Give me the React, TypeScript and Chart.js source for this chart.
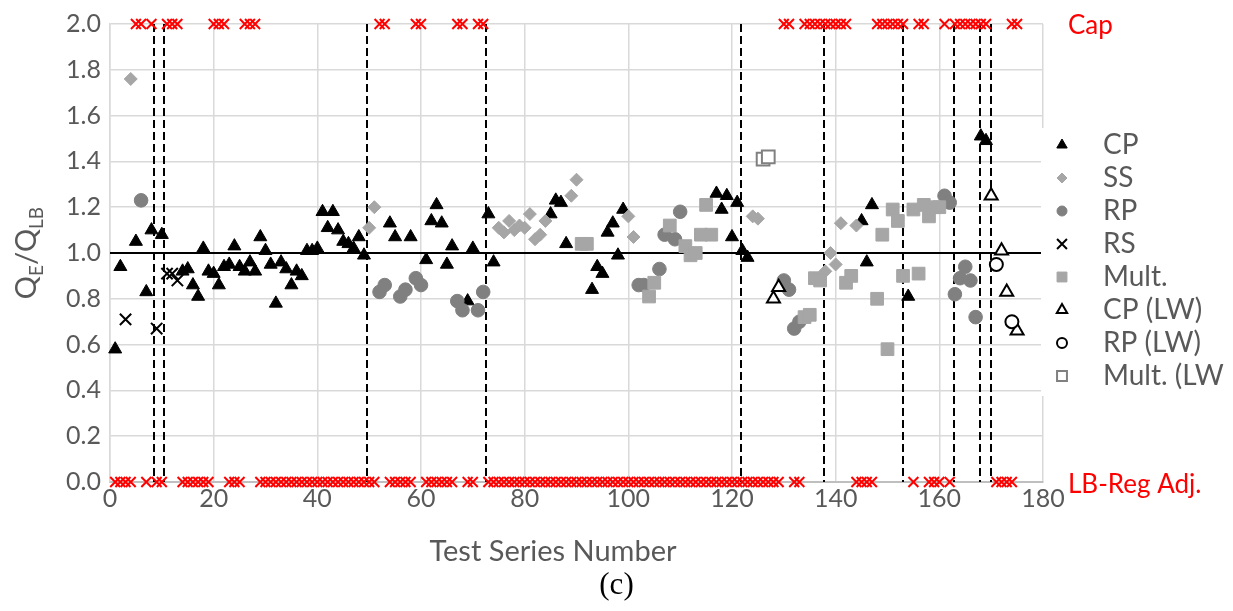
import React, { useEffect, useRef } from 'react';
import { Chart, registerables } from 'chart.js';

Chart.register(...registerables);

// ---- axis settings ----
const X_MIN = 0;
const X_MAX = 180;
const X_STEP = 20;
const Y_MIN = 0;
const Y_MAX = 2;
const Y_STEP = 0.2;
const REF_Y = 1.0;
const CAP_Y = 2.0;
const LB_Y = 0.0;

// ---- vertical dashed dividers (test series number) ----
const DIVIDERS = [8.4, 10.5, 49.6, 72.6, 121.8, 137.8, 152.9, 162.8, 167.8, 169.9];

// ---- series data: [test series number, QE/QLB] ----
const CP: [number, number][] = [
  [1, 0.58], [2, 0.94], [5, 1.05], [7, 0.83], [8, 1.1], [10, 1.08], [14, 0.92], [15, 0.93], [16, 0.86],
  [17, 0.81], [18, 1.02], [19, 0.92], [20, 0.91], [21, 0.86], [22, 0.94], [23, 0.95], [24, 1.03], [25, 0.94],
  [26, 0.92], [27, 0.96], [28, 0.92], [29, 1.07], [30, 1.01], [31, 0.95], [32, 0.78], [33, 0.96], [34, 0.93],
  [35, 0.86], [36, 0.92], [37, 0.9], [38, 1.01], [39, 1.01], [40, 1.02], [41, 1.18], [42, 1.11], [43, 1.18],
  [44, 1.1], [45, 1.05], [46, 1.04], [47, 1.02], [48, 1.07], [49, 0.99], [54, 1.13], [55, 1.07], [58, 1.07],
  [61, 0.97], [62, 1.14], [63, 1.21], [64, 1.13], [65, 0.95], [66, 1.03], [69, 0.79], [70, 1.02], [73, 1.17],
  [74, 0.96], [85, 1.17], [86, 1.23], [87, 1.22], [88, 1.04], [93, 0.84], [94, 0.94], [95, 0.91], [96, 1.09],
  [97, 1.13], [98, 0.99], [99, 1.19], [117, 1.26], [118, 1.19], [119, 1.25], [120, 1.07], [121, 1.22],
  [122, 1.01], [123, 0.98], [145, 1.14], [146, 0.96], [147, 1.21], [154, 0.81], [168, 1.51], [169, 1.49],
];
const SS: [number, number][] = [
  [4, 1.76], [50, 1.11], [51, 1.2], [75, 1.11], [76, 1.09], [77, 1.14], [78, 1.1], [79, 1.12], [80, 1.11],
  [81, 1.17], [82, 1.06], [83, 1.08], [84, 1.14], [89, 1.25], [90, 1.32], [100, 1.16], [101, 1.07],
  [124, 1.16], [125, 1.15], [138, 0.92], [139, 1.0], [140, 0.95], [141, 1.13], [144, 1.12],
];
const RP: [number, number][] = [
  [6, 1.23], [52, 0.83], [53, 0.86], [56, 0.81], [57, 0.84], [59, 0.89], [60, 0.86], [67, 0.79], [68, 0.75],
  [71, 0.75], [72, 0.83], [102, 0.86], [103, 0.86], [106, 0.93], [107, 1.08], [109, 1.06], [110, 1.18],
  [130, 0.88], [131, 0.84], [132, 0.67], [133, 0.7], [161, 1.25], [162, 1.22], [163, 0.82], [164, 0.89],
  [165, 0.94], [166, 0.88], [167, 0.72],
];
const RS: [number, number][] = [[3, 0.71], [9, 0.67], [11, 0.91], [12, 0.91], [13, 0.88]];
const MULT: [number, number][] = [
  [91, 1.04], [92, 1.04], [104, 0.81], [105, 0.87], [108, 1.12], [111, 1.03], [112, 0.99], [113, 1.0],
  [114, 1.08], [115, 1.21], [116, 1.08], [134, 0.72], [135, 0.73], [136, 0.89], [137, 0.88], [142, 0.87],
  [143, 0.9], [148, 0.8], [149, 1.08], [150, 0.58], [151, 1.19], [152, 1.14], [153, 0.9], [155, 1.19],
  [156, 0.91], [157, 1.21], [158, 1.16], [159, 1.2], [160, 1.2],
];
const CP_LW: [number, number][] = [[128, 0.8], [129, 0.85], [170, 1.25], [172, 1.01], [173, 0.83], [175, 0.66]];
const RP_LW: [number, number][] = [[171, 0.95], [174, 0.7]];
const MULT_LW: [number, number][] = [[126, 1.41], [127, 1.42]];

const range = (a: number, b: number) => Array.from({ length: b - a + 1 }, (_, i) => a + i);

// test series at the cap (plotted at 2.0) and with LB regression adjustment (plotted at 0.0)
const CAP_SERIES: number[] = [
  5, 6, 8, 11, 12, 13, 20, 21, 22, 26, 27, 28, 52, 53, 59, 60, 67, 68, 71, 72, 130, 131,
  ...range(134, 142), ...range(148, 153), 156, 157, 161, ...range(163, 169), 174, 175,
];
const LB_SERIES: number[] = [
  1, 2, 3, 4, 7, 9, 10, ...range(14, 19), 23, 24, 25, ...range(29, 51), ...range(54, 58), ...range(61, 66),
  69, 70, ...range(73, 129), 132, 133, ...range(144, 147), 155, 158, 159, 160, 162, ...range(171, 174),
];

const TEXT_GRAY = '#595959';
const FONT = 'Lato';

function shapePath(ctx: CanvasRenderingContext2D, style: string, x: number, y: number, r: number) {
  ctx.beginPath();
  if (style === 'triangle') {
    let a = 0;
    ctx.moveTo(x + Math.sin(a) * r, y - Math.cos(a) * r);
    a += (2 * Math.PI) / 3;
    ctx.lineTo(x + Math.sin(a) * r, y - Math.cos(a) * r);
    a += (2 * Math.PI) / 3;
    ctx.lineTo(x + Math.sin(a) * r, y - Math.cos(a) * r);
    ctx.closePath();
  } else if (style === 'circle') {
    ctx.arc(x, y, r, 0, Math.PI * 2);
    ctx.closePath();
  } else if (style === 'rect') {
    const s = Math.SQRT1_2 * r;
    ctx.rect(x - s, y - s, 2 * s, 2 * s);
  } else if (style === 'rectRot') {
    ctx.moveTo(x - r, y);
    ctx.lineTo(x, y - r);
    ctx.lineTo(x + r, y);
    ctx.lineTo(x, y + r);
    ctx.closePath();
  } else if (style === 'crossRot') {
    const o = Math.SQRT1_2 * r;
    ctx.moveTo(x - o, y - o);
    ctx.lineTo(x + o, y + o);
    ctx.moveTo(x - o, y + o);
    ctx.lineTo(x + o, y - o);
  }
}

const overlayPlugin = {
  id: 'overlay',
  beforeDatasetsDraw(chart: any) {
    const { ctx, scales } = chart;
    const xs = scales.x;
    const ys = scales.y;
    ctx.save();
    // dashed dividers
    ctx.strokeStyle = '#000000';
    ctx.lineWidth = 2;
    ctx.setLineDash([8, 4]);
    for (const d of DIVIDERS) {
      const px = Math.round(xs.getPixelForValue(d));
      ctx.beginPath();
      ctx.moveTo(px, ys.getPixelForValue(Y_MAX));
      ctx.lineTo(px, ys.getPixelForValue(Y_MIN));
      ctx.stroke();
    }
    // reference line at 1.0
    ctx.setLineDash([]);
    ctx.beginPath();
    const ry = Math.round(ys.getPixelForValue(REF_Y));
    ctx.moveTo(xs.getPixelForValue(X_MIN), ry);
    ctx.lineTo(xs.getPixelForValue(X_MAX), ry);
    ctx.stroke();
    ctx.restore();
  },
  afterDraw(chart: any) {
    const { ctx, scales, chartArea } = chart;
    const ys = scales.y;
    ctx.save();

    // Cap / LB-Reg Adj. labels
    ctx.fillStyle = '#FF0000';
    ctx.font = `26px ${FONT}`;
    ctx.textAlign = 'left';
    ctx.textBaseline = 'middle';
    ctx.fillText('Cap', 1068, ys.getPixelForValue(CAP_Y) + 2);
    ctx.fillText('LB-Reg Adj.', 1068, ys.getPixelForValue(LB_Y) + 3);

    // legend
    ctx.fillStyle = '#FFFFFF';
    ctx.fillRect(1041, 128, 192, 268);
    ctx.save();
    ctx.beginPath();
    ctx.rect(1041, 120, 183, 280);
    ctx.clip();
    const items = chart.data.datasets.filter((d: any) => d.inLegend);
    items.forEach((d: any, i: number) => {
      const cy = 145 + i * 33;
      const cx = 1062;
      const r = d.legendRadius;
      shapePath(ctx, d.pointStyle, cx, cy, r);
      ctx.lineWidth = d.legendBorder;
      if (d.pointStyle !== 'crossRot') {
        ctx.fillStyle = d.backgroundColor;
        ctx.fill();
      }
      ctx.strokeStyle = d.borderColor;
      ctx.stroke();
      ctx.fillStyle = TEXT_GRAY;
      ctx.font = `28px ${FONT}`;
      ctx.textAlign = 'left';
      ctx.textBaseline = 'middle';
      ctx.fillText(d.label, 1103, cy);
    });
    ctx.restore();

    // x axis title
    ctx.fillStyle = TEXT_GRAY;
    ctx.font = `29px ${FONT}`;
    ctx.textAlign = 'center';
    ctx.textBaseline = 'middle';
    ctx.fillText('Test Series Number', 553, 552);

    // y axis title with subscripts
    ctx.translate(27, (chartArea.top + chartArea.bottom) / 2);
    ctx.rotate(-Math.PI / 2);
    const big = `29px ${FONT}`;
    const small = `19px ${FONT}`;
    const parts: [string, string, number][] = [
      ['Q', big, 0],
      ['E', small, 7],
      ['/Q', big, 0],
      ['LB', small, 7],
    ];
    let total = 0;
    for (const [t, f] of parts) {
      ctx.font = f;
      total += ctx.measureText(t).width;
    }
    let cx = -total / 2;
    ctx.textAlign = 'left';
    ctx.textBaseline = 'alphabetic';
    for (const [t, f, dy] of parts) {
      ctx.font = f;
      ctx.fillText(t, cx, 9 + dy);
      cx += ctx.measureText(t).width;
    }
    ctx.restore();
  },
};

function pts(arr: [number, number][]) {
  return arr.map(([x, y]) => ({ x, y }));
}

function series(
  label: string,
  data: [number, number][],
  pointStyle: string,
  radius: number,
  fill: string,
  stroke: string,
  border: number,
  order: number,
  legendRadius: number,
  legendBorder: number,
) {
  return {
    type: 'scatter',
    label,
    data: pts(data),
    pointStyle,
    pointRadius: radius,
    backgroundColor: fill,
    borderColor: stroke,
    borderWidth: border,
    clip: false,
    order,
    inLegend: true,
    legendRadius,
    legendBorder,
  };
}

export default function App() {
  const canvasRef = useRef<HTMLCanvasElement | null>(null);

  useEffect(() => {
    if (!canvasRef.current) return;
    const datasets: any[] = [
      series('CP', CP, 'triangle', 7.5, '#000000', '#000000', 1, 10, 6, 1),
      series('SS', SS, 'rectRot', 6.5, '#A6A6A6', '#A6A6A6', 1, 9, 5, 1),
      series('RP', RP, 'circle', 6.8, '#808080', '#808080', 1, 8, 5, 1),
      series('RS', RS, 'crossRot', 8, '#000000', '#000000', 2, 7, 7, 2),
      series('Mult.', MULT, 'rect', 9, '#A6A6A6', '#A6A6A6', 1, 6, 7, 1),
      series('CP (LW)', CP_LW, 'triangle', 7.5, '#FFFFFF', '#000000', 2, 5, 6, 2),
      series('RP (LW)', RP_LW, 'circle', 6.5, '#FFFFFF', '#000000', 2, 4, 5, 2),
      series('Mult. (LW)', MULT_LW, 'rect', 9, '#FFFFFF', '#808080', 2, 3, 7, 2),
      {
        type: 'scatter',
        label: 'Cap',
        data: CAP_SERIES.map((x) => ({ x, y: CAP_Y })),
        pointStyle: 'crossRot',
        pointRadius: 7,
        borderColor: '#FF0000',
        backgroundColor: '#FF0000',
        borderWidth: 2,
        clip: false,
        order: 2,
      },
      {
        type: 'scatter',
        label: 'LB-Reg Adj.',
        data: LB_SERIES.map((x) => ({ x, y: LB_Y })),
        pointStyle: 'crossRot',
        pointRadius: 7,
        borderColor: '#FF0000',
        backgroundColor: '#FF0000',
        borderWidth: 2,
        clip: false,
        order: 1,
      },
    ];

    const chart = new Chart(canvasRef.current, {
      type: 'scatter',
      data: { datasets },
      options: {
        responsive: false,
        animation: false,
        devicePixelRatio: 1,
        layout: { padding: { left: 0, right: 190, top: 17, bottom: 0 } },
        plugins: { legend: { display: false }, tooltip: { enabled: false } },
        scales: {
          x: {
            type: 'linear',
            min: X_MIN,
            max: X_MAX,
            ticks: {
              stepSize: X_STEP,
              color: TEXT_GRAY,
              font: { family: FONT, size: 25 },
              padding: 2,
              maxRotation: 0,
              autoSkip: false,
            },
            grid: { color: '#D9D9D9', lineWidth: 1.5, drawTicks: false },
            border: { color: '#BFBFBF', width: 2 },
            afterFit: (s: any) => {
              s.height = 129;
            },
          },
          y: {
            type: 'linear',
            min: Y_MIN,
            max: Y_MAX,
            ticks: {
              stepSize: Y_STEP,
              color: TEXT_GRAY,
              font: { family: FONT, size: 25 },
              padding: 9,
              callback: (v: any) => Number(v).toFixed(1),
            },
            grid: { color: '#D9D9D9', lineWidth: 1.5, drawTicks: false },
            border: { color: '#D9D9D9', width: 1.5 },
            afterFit: (s: any) => {
              s.width = 110;
            },
          },
        },
      },
      plugins: [overlayPlugin],
    } as any);

    return () => chart.destroy();
  }, []);

  return (
    <div style={{ position: 'fixed', left: 0, top: 0, width: 1233, height: 611, background: '#FFFFFF' }}>
      <canvas ref={canvasRef} width={1233} height={611} style={{ display: 'block' }} />
      <div
        style={{
          position: 'absolute',
          left: 0,
          top: 567,
          width: 1233,
          textAlign: 'center',
          fontFamily: '"Liberation Serif", serif',
          fontSize: 31,
          lineHeight: '34px',
          color: '#000000',
        }}
      >
        (c)
      </div>
    </div>
  );
}
